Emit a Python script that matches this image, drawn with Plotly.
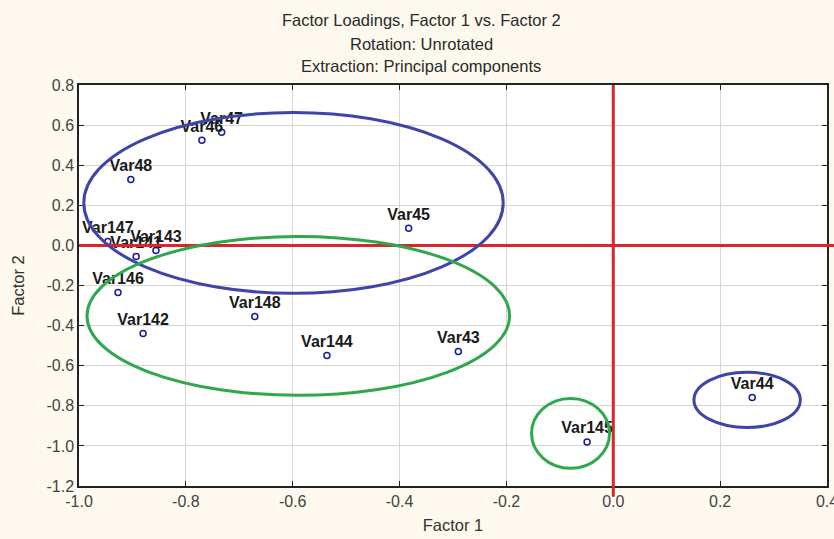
import plotly.graph_objects as go

# Data (factor loadings)
labels = ["Var43", "Var44", "Var45", "Var46", "Var47", "Var48",
          "Var141", "Var142", "Var143", "Var144", "Var145", "Var146", "Var147", "Var148"]
factor1 = [-0.290, 0.260, -0.383, -0.770, -0.733, -0.903,
           -0.893, -0.880, -0.856, -0.536, -0.049, -0.927, -0.946, -0.671]
factor2 = [-0.529, -0.758, 0.085, 0.524, 0.564, 0.329,
           -0.055, -0.439, -0.025, -0.549, -0.980, -0.235, 0.020, -0.354]

x_ticks = [-1.0, -0.8, -0.6, -0.4, -0.2, 0.0, 0.2, 0.4]
y_ticks = [0.8, 0.6, 0.4, 0.2, 0.0, -0.2, -0.4, -0.6, -0.8, -1.0, -1.2]

# Group ellipses (x0, x1, y0, y1, colour)
ellipse_x0 = [-0.991, -0.985, -0.153, 0.151]
ellipse_x1 = [-0.206, -0.194, -0.007, 0.350]
ellipse_y0 = [-0.239, -0.748, -1.112, -0.908]
ellipse_y1 = [0.663, 0.045, -0.763, -0.633]
ellipse_colors = ["#3d45a8", "#2fa84c", "#2fa84c", "#3d45a8"]

title_lines = ["Factor Loadings, Factor 1 vs. Factor 2",
               "Rotation: Unrotated",
               "Extraction: Principal components"]
title_line_px = [20, 44, 66]   # vertical centre of each title line (pixels from top)

PLOT_TOP, PLOT_H = 85, 401

fig = go.Figure()

fig.add_trace(go.Scatter(
    x=factor1, y=factor2, mode="markers+text", text=labels,
    textposition="top center",
    textfont=dict(family="Liberation Sans, Arial", size=16, color="#1a1a1a", weight="bold"),
    marker=dict(symbol="circle-open", size=6, color="#1a1a9a", line=dict(width=1.5)),
    showlegend=False, cliponaxis=False,
))

shapes = []
# red reference lines
shapes.append(dict(type="line", xref="x", yref="paper", x0=0, x1=0, y0=-0.027, y1=1,
                   line=dict(color="#d8262a", width=3), layer="above"))
shapes.append(dict(type="line", xref="paper", yref="y", x0=0, x1=1.01, y0=0, y1=0,
                   line=dict(color="#d8262a", width=3), layer="above"))
for x0, x1, y0, y1, c in zip(ellipse_x0, ellipse_x1, ellipse_y0, ellipse_y1, ellipse_colors):
    shapes.append(dict(type="circle", xref="x", yref="y", x0=x0, x1=x1, y0=y0, y1=y1,
                       line=dict(color=c, width=3), layer="above"))

annotations = []
for line, ypx in zip(title_lines, title_line_px):
    annotations.append(dict(
        text=line, xref="paper", yref="paper",
        x=(421 - 79) / 748, y=1 + (PLOT_TOP - ypx) / PLOT_H,
        xanchor="center", yanchor="middle", showarrow=False,
        font=dict(size=16.5, color="#2a2a2a"),
    ))

fig.update_layout(
    width=834, height=539,
    margin=dict(l=79, r=7, t=PLOT_TOP, b=539 - PLOT_TOP - PLOT_H),
    paper_bgcolor="#fdf9ee", plot_bgcolor="white",
    font=dict(family="Liberation Sans, Arial", size=15, color="#444444"),
    shapes=shapes,
    annotations=annotations,
    xaxis=dict(
        range=[-1.0, 0.4], tickvals=x_ticks, ticktext=[f"{v:.1f}" for v in x_ticks],
        showgrid=True, gridcolor="#d6d6d6", gridwidth=1, zeroline=False,
        showline=True, linecolor="#222222", linewidth=1.5, mirror="ticks",
        ticks="inside", ticklen=5, tickcolor="#222222",
        ticklabeloverflow="allow", automargin=False,
        tickfont=dict(size=16, color="#444444"),
        title=dict(text="Factor 1", standoff=10, font=dict(size=16.5, color="#333333")),
    ),
    yaxis=dict(
        range=[-1.2, 0.8], tickvals=y_ticks, ticktext=[f"{v:.1f}" for v in y_ticks],
        showgrid=True, gridcolor="#d6d6d6", gridwidth=1, zeroline=False,
        showline=True, linecolor="#222222", linewidth=1.5, mirror="ticks",
        ticks="inside", ticklen=5, tickcolor="#222222",
        ticklabeloverflow="allow", automargin=False,
        tickfont=dict(size=16, color="#444444"),
        title=dict(text="Factor 2", standoff=18, font=dict(size=16.5, color="#333333")),
    ),
)

fig.write_html("out.html")
